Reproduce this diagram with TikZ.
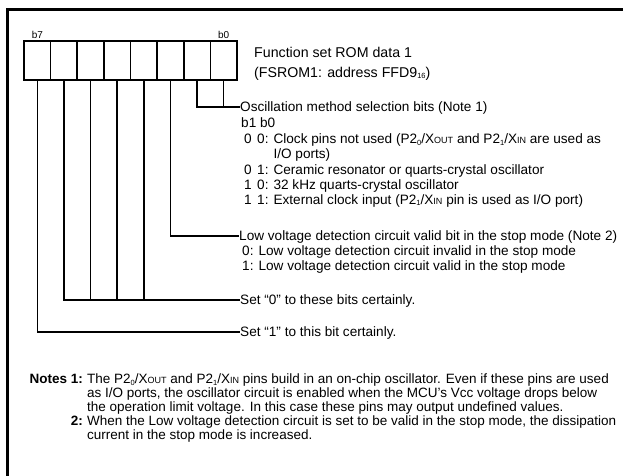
\documentclass[tikz,border=0pt]{standalone}
\usepackage{fontspec}
\setmainfont{Liberation Sans}
\newcommand{\sbs}[1]{\raisebox{-0.2ex}{\fontsize{7.5}{7.5}\selectfont #1}}
\newcommand{\smc}[1]{{\fontsize{9}{9}\selectfont #1}}
\begin{document}
\begin{tikzpicture}[x=1pt,y=-1pt,
  lab/.style={anchor=west, inner sep=0pt, text height=9.6pt, text depth=0pt, font=\fontsize{13.6}{15}\selectfont},
  note/.style={anchor=west, inner sep=0pt, text height=9.5pt, text depth=0pt, font=\fontsize{13.5}{14}\selectfont},
  notenum/.style={note, anchor=east, font=\fontsize{13.5}{14}\selectfont\bfseries},
  cell/.style={draw, line width=1.7pt, minimum width=26.625pt, minimum height=39pt, inner sep=0pt},
  bitlab/.style={anchor=south, inner sep=1pt, font=\fontsize{10}{10}\selectfont},
  wire/.style={line width=1.5pt}]
\useasboundingbox (0,0) rectangle (623,475);
\begin{scope}
  \clip (0,0) rectangle (623,475);
  \draw[line width=3pt] (7,9.5) rectangle (700,600);
\end{scope}
% register cells
\foreach \i in {0,...,7}
  \node[cell] (c\i) at ({237-13.3125-26.625*\i},60.5) {};
\node[bitlab] (b7) at (c7.north) {b7};
\node[bitlab] (b0) at (c0.north) {b0};
% title
\node[lab, font=\fontsize{14.2}{16}\selectfont] (t1) at (254,52.5) {Function set ROM data 1};
\node[lab, font=\fontsize{14.2}{16}\selectfont] (t2) at (254,72.5) {(FSROM1: address FFD9\sbs{16})};
% oscillation block
\node[lab] (osc) at (240,107) {Oscillation method selection bits (Note 1)};
\node[lab] (bb) at (241,123) {b1 b0};
\node[lab] (a00) at (244,139) {0};
\node[lab] (d00) at (257,139) {0: Clock pins not used (P2\sbs{0}/X\smc{OUT} and P2\sbs{1}/X\smc{IN} are used as};
\node[lab] (d00b) at (257,154) {\phantom{0: }I/O ports)};
\node[lab] (a01) at (244,169.5) {0};
\node[lab] (d01) at (257,169.5) {1: Ceramic resonator or quarts-crystal oscillator};
\node[lab] (a10) at (244,184.5) {1};
\node[lab] (d10) at (257,184.5) {0: 32 kHz quarts-crystal oscillator};
\node[lab] (a11) at (244,199.5) {1};
\node[lab] (d11) at (257,199.5) {1: External clock input (P2\sbs{1}/X\smc{IN} pin is used as I/O port)};
% low voltage block
\node[lab] (lowv) at (239,236) {Low voltage detection circuit valid bit in the stop mode (Note 2)};
\node[lab] (lv0) at (242,251) {0: Low voltage detection circuit invalid in the stop mode};
\node[lab] (lv1) at (242,266) {1: Low voltage detection circuit valid in the stop mode};
% set bits
\node[lab] (set0) at (240,300) {Set “0” to these bits certainly.};
\node[lab] (set1) at (240,332) {Set “1” to this bit certainly.};
% connectors
\draw[wire] (c1.south) |- (osc.west);
\draw[wire] (c0.south) -- (c0.south |- osc.west);
\draw[wire] (c2.south) |- (lowv.west);
\draw[wire] (c6.south) |- (set0.west);
\foreach \i in {3,4,5} \draw[wire] (c\i.south) -- (c\i.south |- set0.west);
\draw[wire] (c7.south) |- (set1.west);
% notes
\node[notenum] (n1) at (83,379) {Notes 1:};
\node[note] (n1a) at (87,379) {The P2\sbs{0}/X\smc{OUT} and P2\sbs{1}/X\smc{IN} pins build in an on-chip oscillator. Even if these pins are used};
\node[note] (n1b) at (87,393) {as I/O ports, the oscillator circuit is enabled when the MCU’s Vcc voltage drops below};
\node[note] (n1c) at (87,407) {the operation limit voltage. In this case these pins may output undefined values.};
\node[notenum] (n2) at (83,421) {2:};
\node[note] (n2a) at (87,421) {When the Low voltage detection circuit is set to be valid in the stop mode, the dissipation};
\node[note] (n2b) at (87,435) {current in the stop mode is increased.};
\end{tikzpicture}
\end{document}
